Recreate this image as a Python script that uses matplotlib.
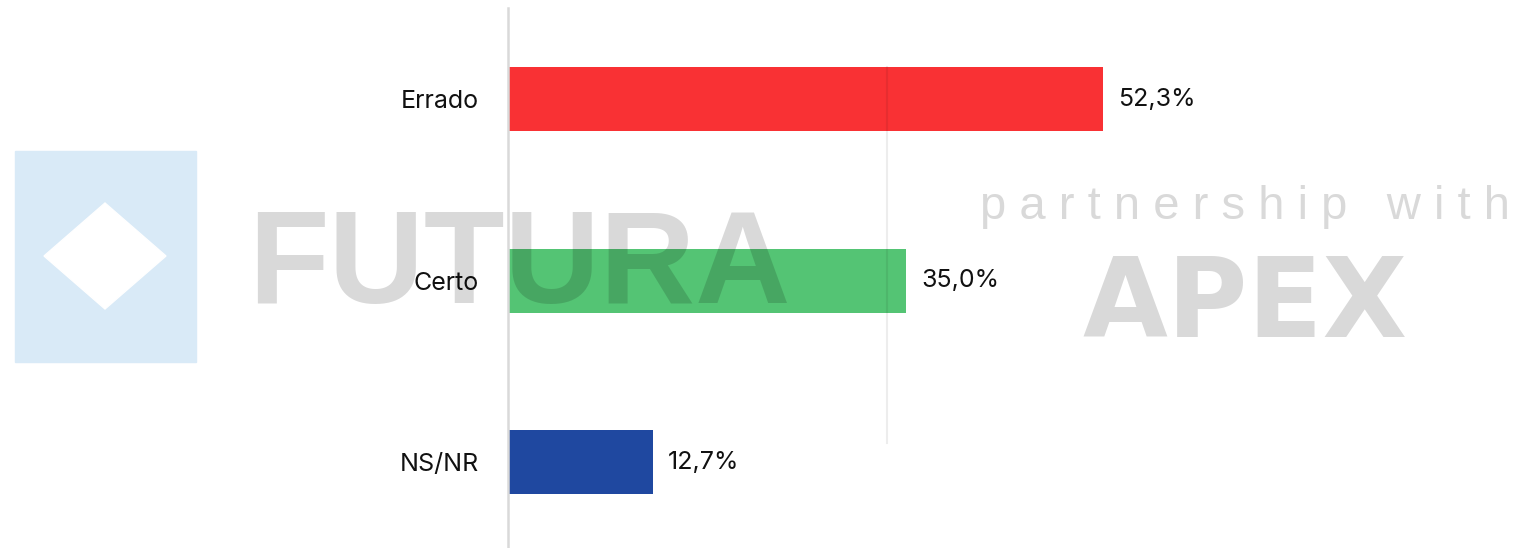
import matplotlib.pyplot as plt
from matplotlib.patches import Rectangle, Polygon
from matplotlib.lines import Line2D

categories = ["Errado", "Certo", "NS/NR"]
values = [52.3, 35.0, 12.7]
value_labels = ["52,3%", "35,0%", "12,7%"]
colors = ["#f93134", "#54c474", "#1f48a0"]

W, H = 1529, 548
fig = plt.figure(figsize=(W / 100, H / 100), dpi=100)

# axes: left edge at x=508 px, one category = 181.5 px
step = 181.5
ax_top = 99 - step / 2
ax_h = step * len(categories)
ax = fig.add_axes([508 / W, 1 - (ax_top + ax_h) / H, 1021 / W, ax_h / H])

ypos = list(range(len(categories)))
ax.barh(ypos, values, height=64 / step, color=colors, zorder=2)
ax.set_ylim(len(categories) - 0.5, -0.5)
ax.set_xlim(0, 1021 / 11.38)

for y, v, lab in zip(ypos, values, value_labels):
    ax.text(v + 15 / 11.38, y, lab, va="center", ha="left",
            fontsize=18, family="Inter", color="#111111")

ax.set_yticks(ypos)
ax.set_yticklabels(categories, fontsize=18, family="Inter", color="#111111")
ax.tick_params(axis="y", length=0, pad=21)
ax.set_xticks([])
for s in ["top", "right", "bottom"]:
    ax.spines[s].set_visible(False)
ax.spines["left"].set_color("#d9d9d9")
ax.spines["left"].set_linewidth(1.8)

# watermark
def px(x, y):
    return x / W, 1 - y / H

fig.patches.append(Rectangle(px(15, 362), 181 / W, 211 / H,
                             transform=fig.transFigure, color="#d9eaf7", zorder=0))
diamond = [px(105, 203), px(166, 256), px(105, 309), px(44, 256)]
fig.patches.append(Polygon(diamond, closed=True, transform=fig.transFigure,
                           color="white", zorder=1))

wm = dict(color="black", alpha=0.15, zorder=10, transform=fig.transFigure)
fig.text(*px(248, 303), "FUTURA", fontsize=95, family="Liberation Sans",
         fontweight="bold", ha="left", va="baseline", **wm)
fig.text(*px(980, 219), "p a r t n e r s h i p   w i t h", fontsize=34,
         family="Liberation Sans", ha="left", va="baseline", **wm)
fig.text(*px(1082, 337), "APEX", fontsize=79, family="DejaVu Sans",
         fontweight="bold", ha="left", va="baseline", **wm)
fig.lines.append(Line2D([887 / W, 887 / W], [1 - 67 / H, 1 - 443 / H],
                        transform=fig.transFigure, color="black", alpha=0.07,
                        linewidth=1.5, zorder=10))

fig.savefig("out.png", dpi=100)
